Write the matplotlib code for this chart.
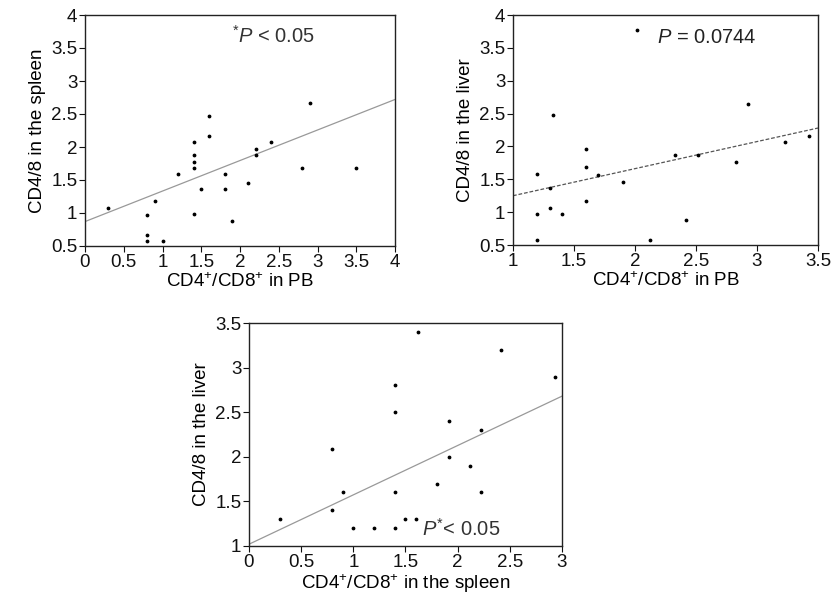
import numpy as np
import matplotlib
matplotlib.use("Agg")
import matplotlib.pyplot as plt

plt.rcParams["font.family"] = ["Liberation Sans", "DejaVu Sans"]
plt.rcParams["mathtext.fontset"] = "custom"
plt.rcParams["mathtext.rm"] = "Liberation Sans"
plt.rcParams["mathtext.it"] = "Liberation Sans:italic"

# PB vs spleen
pb_a = [0.3, 0.8, 0.8, 0.8, 0.9, 1.0, 1.2, 1.4, 1.4, 1.4, 1.4, 1.4, 1.5,
        1.6, 1.6, 1.8, 1.8, 1.9, 2.1, 2.2, 2.2, 2.4, 2.8, 2.9, 3.5]
spleen_a = [1.07, 0.97, 0.67, 0.58, 1.18, 0.58, 1.59, 2.07, 1.88, 1.77, 1.68,
            0.98, 1.37, 2.47, 2.17, 1.59, 1.37, 0.88, 1.46, 1.97, 1.88, 2.07,
            1.68, 2.66, 1.68]
fit_a_x = [0, 4]
fit_a_y = [0.87, 2.72]

# PB vs liver
pb_b = [1.2, 1.2, 1.2, 1.33, 1.3, 1.3, 1.4, 1.6, 1.6, 1.6, 1.7, 1.9, 2.02,
        2.12, 2.33, 2.42, 2.52, 2.83, 2.93, 3.23, 3.43]
liver_b = [1.58, 0.97, 0.58, 2.48, 1.37, 1.07, 0.97, 1.96, 1.68, 1.17, 1.57,
           1.46, 3.77, 0.57, 1.87, 0.88, 1.87, 1.77, 2.65, 2.06, 2.16]
fit_b_x = [1, 3.5]
fit_b_y = [1.25, 2.28]

# spleen vs liver
spleen_c = [0.3, 0.8, 0.8, 0.9, 1.0, 1.2, 1.4, 1.4, 1.4, 1.4, 1.5, 1.6, 1.62,
            1.8, 1.92, 1.92, 2.12, 2.22, 2.22, 2.42, 2.93]
liver_c = [1.3, 2.09, 1.4, 1.6, 1.2, 1.2, 1.2, 2.8, 2.5, 1.6, 1.3, 1.3, 3.4,
           1.7, 2.4, 2.0, 1.9, 2.3, 1.6, 3.2, 2.9]
fit_c_x = [0, 3]
fit_c_y = [1.02, 2.68]

W, H = 839, 603
fig = plt.figure(figsize=(W / 100, H / 100), dpi=100)

TICK = 13.5
LAB = 13.5
ANN = 14.5


def box(l, t, r, b):
    return [l / W, 1 - b / H, (r - l) / W, (b - t) / H]


def style(ax):
    for s in ax.spines.values():
        s.set_linewidth(1.0)
        s.set_color("#222222")
    ax.tick_params(direction="out", length=4, width=0.8, labelsize=TICK,
                   colors="#111111", pad=1.5)


xl = "CD4$^{+}$/CD8$^{+}$ in PB"

ax1 = fig.add_axes(box(85, 15, 395, 246))
ax1.scatter(pb_a, spleen_a, s=3, color="black", zorder=3)
ax1.plot(fit_a_x, fit_a_y, color="#999999", lw=0.9)
ax1.set_xlim(0, 4)
ax1.set_ylim(0.5, 4)
ax1.set_xticks(np.arange(0, 4.01, 0.5))
ax1.set_yticks(np.arange(0.5, 4.01, 0.5))
ax1.set_xticklabels(["0", "0.5", "1", "1.5", "2", "2.5", "3", "3.5", "4"])
ax1.set_yticklabels(["0.5", "1", "1.5", "2", "2.5", "3", "3.5", "4"])
ax1.set_xlabel(xl, fontsize=LAB, labelpad=1)
ax1.set_ylabel("CD4/8 in the spleen", fontsize=LAB, labelpad=4)
ax1.text(1.9, 3.58, "$^{*}$$\\it{P}$ < 0.05", fontsize=ANN, color="#333333")
style(ax1)

ax2 = fig.add_axes(box(513, 15, 818, 245))
ax2.scatter(pb_b, liver_b, s=3, color="black", zorder=3)
ax2.plot(fit_b_x, fit_b_y, color="#555555", lw=0.9, ls=(0, (3, 1.5)))
ax2.set_xlim(1, 3.5)
ax2.set_ylim(0.5, 4)
ax2.set_xticks(np.arange(1, 3.51, 0.5))
ax2.set_yticks(np.arange(0.5, 4.01, 0.5))
ax2.set_xticklabels(["1", "1.5", "2", "2.5", "3", "3.5"])
ax2.set_yticklabels(["0.5", "1", "1.5", "2", "2.5", "3", "3.5", "4"])
ax2.set_xlabel(xl, fontsize=LAB, labelpad=1)
ax2.set_ylabel("CD4/8 in the liver", fontsize=LAB, labelpad=4)
ax2.text(2.18, 3.58, "$\\it{P}$ = 0.0744", fontsize=ANN, color="#222222")
style(ax2)

ax3 = fig.add_axes(box(249, 323, 562, 546))
ax3.scatter(spleen_c, liver_c, s=3, color="black", zorder=3)
ax3.plot(fit_c_x, fit_c_y, color="#999999", lw=0.9)
ax3.set_xlim(0, 3)
ax3.set_ylim(1, 3.5)
ax3.set_xticks(np.arange(0, 3.01, 0.5))
ax3.set_yticks(np.arange(1, 3.51, 0.5))
ax3.set_xticklabels(["0", "0.5", "1", "1.5", "2", "2.5", "3"])
ax3.set_yticklabels(["1", "1.5", "2", "2.5", "3", "3.5"])
ax3.set_xlabel("CD4$^{+}$/CD8$^{+}$ in the spleen", fontsize=LAB, labelpad=1)
ax3.set_ylabel("CD4/8 in the liver", fontsize=LAB, labelpad=4)
ax3.text(1.66, 1.11, "$\\it{P}^{*}$< 0.05", fontsize=ANN, color="#333333")
style(ax3)

fig.savefig("out.png", dpi=100, facecolor="white")
